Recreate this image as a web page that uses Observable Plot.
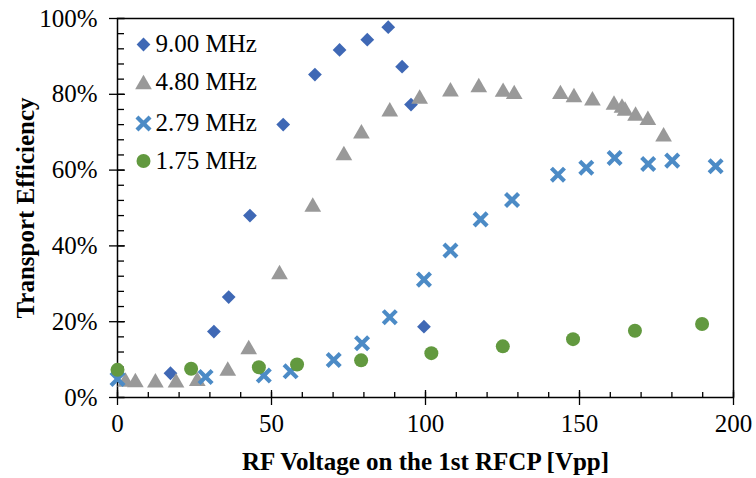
<!DOCTYPE html>
<html><head><meta charset="utf-8">
<script src="https://cdn.jsdelivr.net/npm/d3@7"></script>
<script src="https://cdn.jsdelivr.net/npm/@observablehq/plot@0.6"></script>
<style>body{margin:0;background:#fff}#chart svg{display:block}</style>
</head><body><div id="chart"></div>
<script>
// Series names
const seriesNames = ["9.00 MHz", "4.80 MHz", "2.79 MHz", "1.75 MHz"];

// 9.00 MHz
const f900x = [17.2, 31.3, 36.1, 43.0, 53.8, 64.1, 72.1, 81.1, 87.9, 92.4, 95.3, 99.5];
const f900y = [6.4, 17.4, 26.5, 48.0, 72.0, 85.2, 91.7, 94.4, 97.7, 87.3, 77.3, 18.7];

// 4.80 MHz
const f480x = [2.6, 5.8, 12.3, 19.0, 25.9, 35.8, 42.6, 52.6, 63.4, 73.5, 79.2, 88.4, 98.1, 108.1, 117.3, 125.2, 128.8, 143.8, 148.2, 154.2, 161.2, 163.8, 164.8, 168.2, 172.2, 177.3];
const f480y = [4.1, 4.0, 3.9, 3.9, 4.3, 7.0, 12.7, 32.5, 50.3, 63.9, 69.6, 75.4, 78.8, 80.7, 81.8, 80.6, 80.0, 80.0, 79.2, 78.3, 77.2, 76.4, 75.6, 74.3, 73.2, 68.8];

// 2.79 MHz
const f279x = [0, 28.6, 47.5, 56.2, 70.2, 79.4, 88.4, 99.5, 108.1, 117.9, 128.1, 143.0, 152.2, 161.4, 172.3, 180.1, 194.2];
const f279y = [4.9, 5.4, 5.8, 6.9, 9.9, 14.3, 21.2, 31.1, 38.8, 47.0, 52.1, 58.8, 60.6, 63.2, 61.6, 62.5, 61.0];

// 1.75 MHz
const f175x = [0, 23.9, 45.9, 58.3, 79.1, 101.9, 125.1, 147.9, 168.0, 189.8];
const f175y = [7.3, 7.6, 8.0, 8.7, 9.8, 11.7, 13.5, 15.4, 17.6, 19.4];

// Tick values
const xMajorTicks = [0, 50, 100, 150, 200];
const xMinorTicks = d3.range(0, 201, 10);
const yMajorTicks = [0, 20, 40, 60, 80, 100];
const yMinorTicks = d3.range(0, 101, 4);

const xLabel = "RF Voltage on the 1st RFCP [Vpp]";
const yLabel = "Transport Efficiency";

const zip = (xs, ys) => xs.map((x, i) => ({x, y: ys[i]}));
const s900 = zip(f900x, f900y);
const s480 = zip(f480x, f480y);
const s279 = zip(f279x, f279y);
const s175 = zip(f175x, f175y);

const styles = [
  {symbol: "diamond2", fill: "#3F68B5", stroke: "none", r: 6.2},
  {symbol: "triangle", fill: "#999999", stroke: "none", r: 6.2},
  {symbol: "times", fill: "none", stroke: "#4C8BC6", strokeWidth: 4.2, r: 6},
  {symbol: "circle", fill: "#62993F", stroke: "none", r: 7}
];
const legendDotDy = [26, 66, 105, 142.5];
const legendTextDy = [25.5, 63.5, 104, 142];

const font = "'Liberation Serif','Times New Roman',Times,serif";

const legendMarks = seriesNames.flatMap((name, i) => [
  Plot.dot([name], {frameAnchor: "top-left", dx: 26, dy: legendDotDy[i], ...styles[i]}),
  Plot.text([name], {frameAnchor: "top-left", text: d => d, dx: 38, dy: legendTextDy[i], textAnchor: "start", lineAnchor: "middle", fontSize: 25, fill: "black"})
]);

const chart = Plot.plot({
  width: 756, height: 478,
  marginLeft: 117, marginRight: 23, marginTop: 18, marginBottom: 81,
  style: {fontFamily: font, fontSize: "25px", color: "black", background: "white", overflow: "visible"},
  x: {domain: [0, 200]},
  y: {domain: [0, 100]},
  marks: [
    Plot.axisX(xMinorTicks, {tickSize: -5, tickFormat: () => "", label: null, strokeWidth: 1.3}),
    Plot.axisX(xMajorTicks, {tickSize: -7, tickFormat: () => "", label: null, strokeWidth: 1.3}),
    Plot.axisX(xMajorTicks, {tickSize: 8, tickPadding: 9, label: null, strokeWidth: 1.3, fontSize: 25}),
    Plot.axisY(yMinorTicks, {tickSize: -7, tickFormat: () => "", label: null, strokeWidth: 1.3}),
    Plot.axisY(yMajorTicks, {tickSize: -8, tickFormat: () => "", label: null, strokeWidth: 1.3}),
    Plot.axisY(yMajorTicks, {tickSize: 8, tickPadding: 12, label: null, strokeWidth: 1.3, fontSize: 25, tickFormat: d => d + "%"}),
    Plot.frame({stroke: "black", strokeWidth: 1.5}),
    Plot.dot(s900, {x: "x", y: "y", ...styles[0]}),
    Plot.dot(s480, {x: "x", y: "y", ...styles[1]}),
    Plot.dot(s279, {x: "x", y: "y", ...styles[2]}),
    Plot.dot(s175, {x: "x", y: "y", ...styles[3]}),
    ...legendMarks,
    Plot.text([xLabel], {frameAnchor: "bottom", text: d => d, dy: 64, textAnchor: "middle", lineAnchor: "middle", fontWeight: "bold", fontSize: 25, fill: "black"}),
    Plot.text([yLabel], {frameAnchor: "left", text: d => d, dx: -92, rotate: -90, textAnchor: "middle", lineAnchor: "middle", fontWeight: "bold", fontSize: 25, fill: "black"})
  ]
});
document.getElementById("chart").appendChild(chart);
</script>
</body></html>
